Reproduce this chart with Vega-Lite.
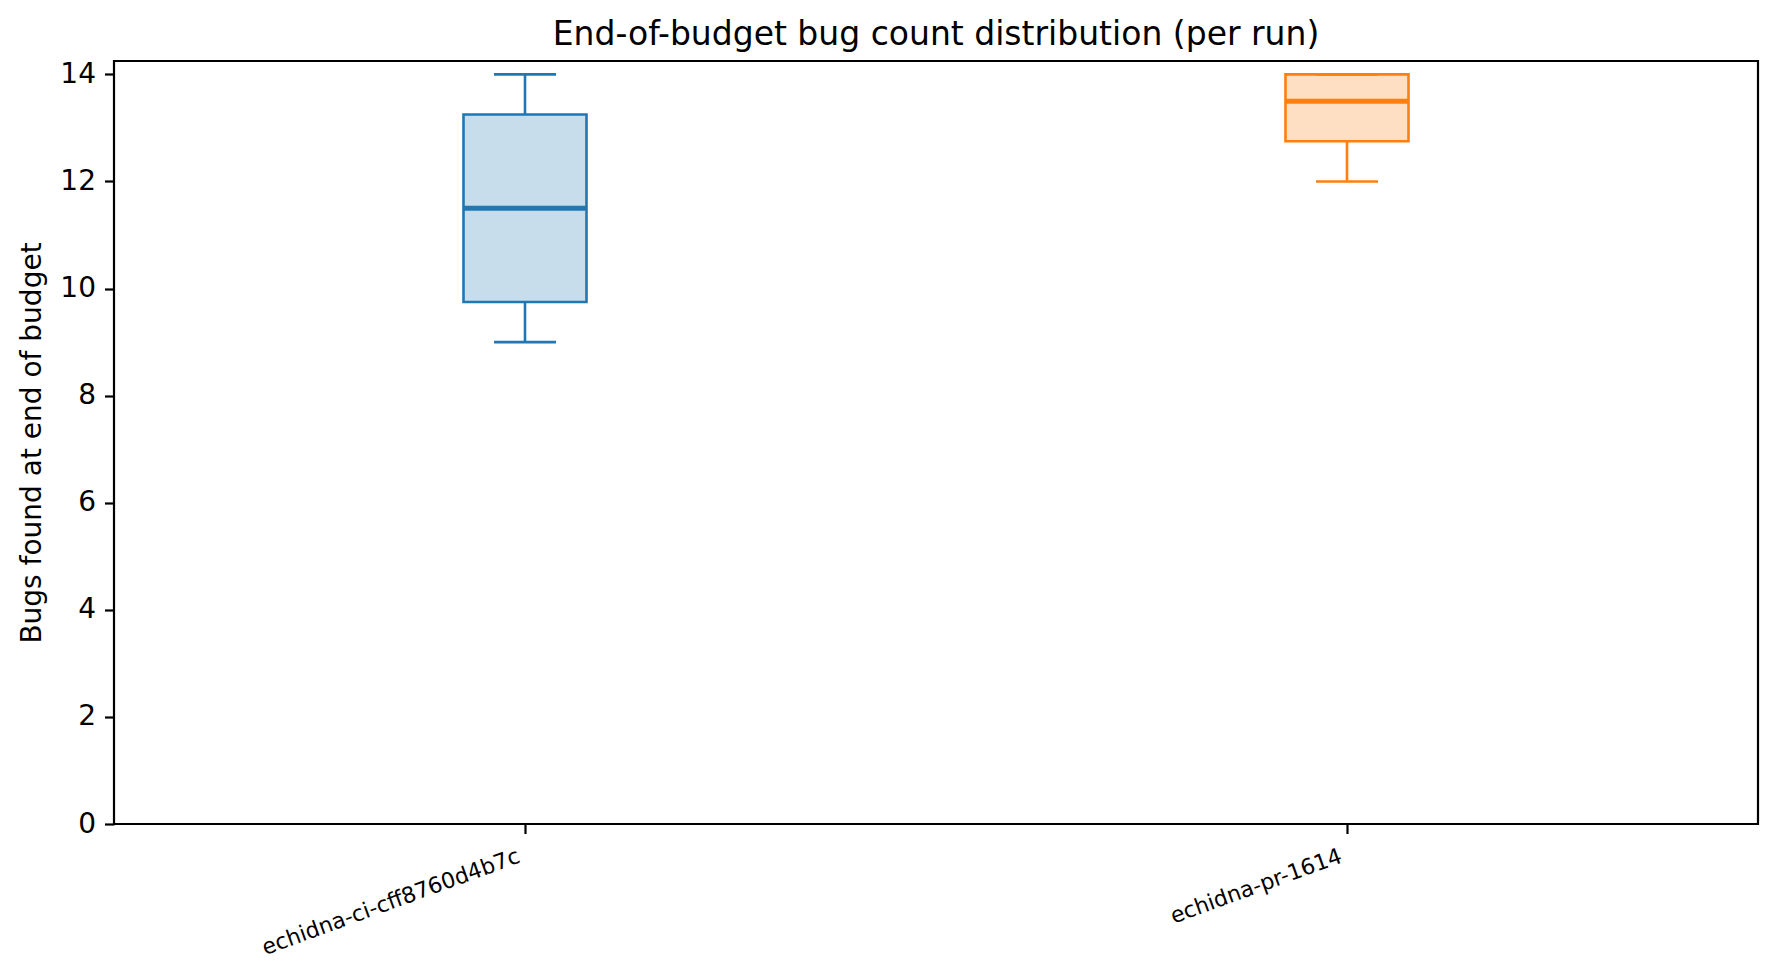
{
  "$schema": "https://vega.github.io/schema/vega-lite/v6.json",
  "autosize": {"type": "none"},
  "padding": {"left": 114, "top": 61, "right": 21, "bottom": 153},
  "width": 1644,
  "height": 763,
  "background": "white",
  "title": {
    "text": "End-of-budget bug count distribution (per run)",
    "anchor": "middle",
    "frame": "group",
    "font": "DejaVu Sans",
    "fontSize": 33,
    "fontWeight": "normal",
    "color": "black",
    "baseline": "bottom",
    "offset": 10,
    "dy": 35
  },
  "data": {
    "values": [
      {"run": "echidna-ci-cff8760d4b7c", "min": 9, "q1": 9.75, "median": 11.5, "q3": 13.25, "max": 14},
      {"run": "echidna-pr-1614", "min": 12, "q1": 12.75, "median": 13.5, "q3": 14, "max": 14}
    ]
  },
  "encoding": {
    "x": {
      "field": "run",
      "type": "nominal",
      "sort": null,
      "scale": {"type": "point", "padding": 0.5},
      "axis": {
        "title": null,
        "labelAngle": -20,
        "labelAlign": "right",
        "labelBaseline": "top",
        "labelFontSize": 22,
        "labelPadding": 12,
        "labelOffset": -10,
        "labelLimit": 0
      }
    }
  },
  "layer": [
    {
      "mark": {"type": "bar", "size": 123, "strokeWidth": 2.6},
      "encoding": {
        "y": {
          "field": "q1",
          "type": "quantitative",
          "scale": {"domain": [0, 14.25], "nice": false},
          "axis": {
            "title": "Bugs found at end of budget",
            "values": [0, 2, 4, 6, 8, 10, 12, 14],
            "titlePadding": 13
          }
        },
        "y2": {"field": "q3"},
        "fill": {
          "field": "run",
          "type": "nominal",
          "scale": {"domain": ["echidna-ci-cff8760d4b7c", "echidna-pr-1614"], "range": ["#c7ddec", "#ffdfc3"]},
          "legend": null
        },
        "stroke": {
          "field": "run",
          "type": "nominal",
          "scale": {"domain": ["echidna-ci-cff8760d4b7c", "echidna-pr-1614"], "range": ["#1f77b4", "#ff7f0e"]},
          "legend": null
        }
      }
    },
    {
      "mark": {"type": "rule", "strokeWidth": 2.6},
      "encoding": {
        "y": {"field": "min", "type": "quantitative"},
        "y2": {"field": "q1"},
        "color": {
          "field": "run",
          "type": "nominal",
          "scale": {"domain": ["echidna-ci-cff8760d4b7c", "echidna-pr-1614"], "range": ["#1f77b4", "#ff7f0e"]},
          "legend": null
        }
      }
    },
    {
      "mark": {"type": "rule", "strokeWidth": 2.6},
      "encoding": {
        "y": {"field": "q3", "type": "quantitative"},
        "y2": {"field": "max"},
        "color": {"field": "run", "type": "nominal", "legend": null}
      }
    },
    {
      "mark": {"type": "tick", "size": 62, "thickness": 2.6, "opacity": 1},
      "encoding": {
        "y": {"field": "min", "type": "quantitative"},
        "color": {"field": "run", "type": "nominal", "legend": null}
      }
    },
    {
      "mark": {"type": "tick", "size": 62, "thickness": 2.6, "opacity": 1},
      "encoding": {
        "y": {"field": "max", "type": "quantitative"},
        "color": {"field": "run", "type": "nominal", "legend": null}
      }
    },
    {
      "mark": {"type": "tick", "size": 123, "thickness": 5, "opacity": 1},
      "encoding": {
        "y": {"field": "median", "type": "quantitative"},
        "color": {"field": "run", "type": "nominal", "legend": null}
      }
    }
  ],
  "config": {
    "font": "DejaVu Sans",
    "view": {"stroke": "black", "strokeWidth": 2.2},
    "axis": {
      "grid": false,
      "domain": false,
      "ticks": true,
      "tickColor": "black",
      "tickWidth": 2.2,
      "tickSize": 9.5,
      "labelColor": "black",
      "labelFont": "DejaVu Sans",
      "labelFontSize": 28,
      "labelPadding": 9,
      "titleColor": "black",
      "titleFont": "DejaVu Sans",
      "titleFontSize": 28,
      "titleFontWeight": "normal"
    }
  }
}
